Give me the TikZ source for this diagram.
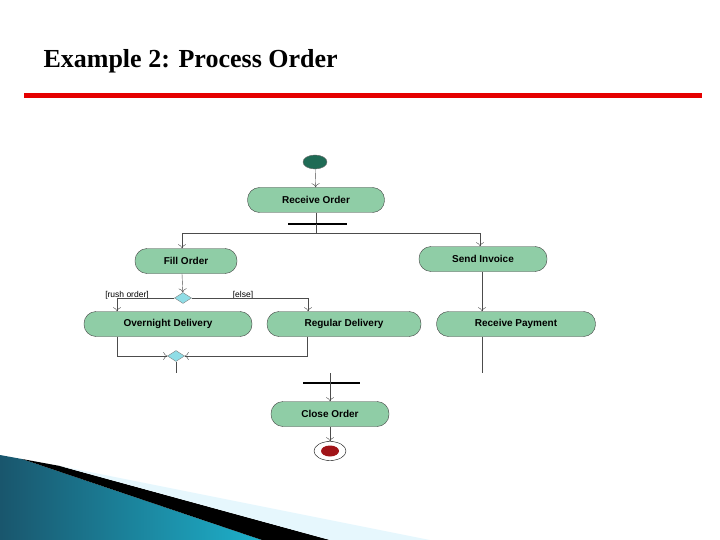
\documentclass[tikz,border=0pt]{standalone}
\usepackage{fontspec}
\setmainfont{Liberation Serif}
\newfontfamily\actfont{Liberation Sans}
\usetikzlibrary{shapes.geometric,arrows.meta}
\definecolor{actgreen}{HTML}{8FCDA6}
\definecolor{startgreen}{HTML}{1F6B55}
\definecolor{diamblue}{HTML}{8FDDE6}
\definecolor{endred}{HTML}{A01418}
\definecolor{footblue}{HTML}{2A8FB5}
\tikzset{
  act/.style={draw=black!75, fill=actgreen, rounded corners=12pt, minimum height=25pt,
    font=\actfont\bfseries\fontsize{10}{12}\selectfont, inner sep=0pt},
  decision/.style={draw=black!50, fill=diamblue, diamond, minimum width=17pt, minimum height=11pt, inner sep=0pt},
  flow/.style={draw=black!70, -{To[length=4pt,width=8pt]}},
  line/.style={draw=black!70},
  bar/.style={line width=2.5pt}
}
\begin{document}
\begin{tikzpicture}[x=1pt,y=-1pt]
  \useasboundingbox (0,0) rectangle (720,540);
  % header
  \node[anchor=base west, font=\bfseries\fontsize{26}{30}\selectfont] (title) at (40,68) {Example 2: Process Order};
  \fill[red!90!black] (24,93) rectangle (702,98);
  % footer
  \shade[left color=footblue!60!black, right color=footblue!70!cyan] (0,455) -- (22,459) -- (262,540) -- (0,540) -- cycle;
  \fill[black] (22,459) -- (60,466) -- (330,540) -- (262,540) -- cycle;
  \fill[cyan!10] (60,466) -- (430,540) -- (330,540) -- cycle;

  % nodes
  \node[ellipse, fill=startgreen, draw=black!60, minimum width=24pt, minimum height=14pt] (start) at (315,162) {};
  \node[act, minimum width=137pt] (recv) at (316,200) {Receive Order};
  \node[act, minimum width=102pt] (fill) at (186,261) {Fill Order};
  \node[act, minimum width=128pt] (invoice) at (483,259) {Send Invoice};
  \node[decision] (d1) at (183,298) {};
  \node[act, minimum width=168pt] (night) at (168,324) {Overnight Delivery};
  \node[act, minimum width=154pt] (regular) at (344,324) {Regular Delivery};
  \node[act, minimum width=159pt] (payment) at (516,324) {Receive Payment};
  \node[decision] (d2) at (176,356) {};
  \node[act, minimum width=118pt] (close) at (330,414) {Close Order};
  \node[ellipse, draw=black, minimum width=32pt, minimum height=19pt] (finish) at (330,451) {};
  \node[ellipse, fill=endred, minimum width=18pt, minimum height=11pt] at (finish) {};
  \node[font=\actfont\fontsize{8.5}{9}\selectfont, anchor=base] (rush) at (127,297) {[rush order]};
  \node[font=\actfont\fontsize{8.5}{9}\selectfont, anchor=base] (else) at (243,297) {[else]};

  \coordinate (fork) at (316,224);
  \coordinate (mergeout) at (176,373);
  \coordinate (payout) at (482,373);
  \coordinate (joinin) at (330,373);

  % connectors
  \draw[flow] (start) -- (recv);
  \draw[line] (recv) -- (fork);
  \draw[bar] (288,224) -- (347,224);
  \draw[flow] (fork) -- (316,233) -| (fill.north -| 182,0);
  \draw[flow] (316,233) -| (invoice.north -| 480,0);
  \draw[flow] (fill.south -| 182,0) -- (d1);
  \draw[flow] (d1.west) -| (night.north -| 117,0);
  \draw[flow] (d1.east) -| (regular.north -| 308,0);
  \draw[flow] (invoice.south -| 482,0) -- (payment.north -| 482,0);
  \draw[flow] (night.south -| 117,0) |- (d2.west);
  \draw[flow] (regular.south -| 307,0) |- (d2.east);
  \draw[line] (d2) -- (mergeout);
  \draw[line] (payment.south -| 482,0) -- (payout);
  \draw[bar] (303,383) -- (360,383);
  \draw[flow] (joinin) -- (close);
  \draw[flow] (close) -- (finish);
\end{tikzpicture}
\end{document}
